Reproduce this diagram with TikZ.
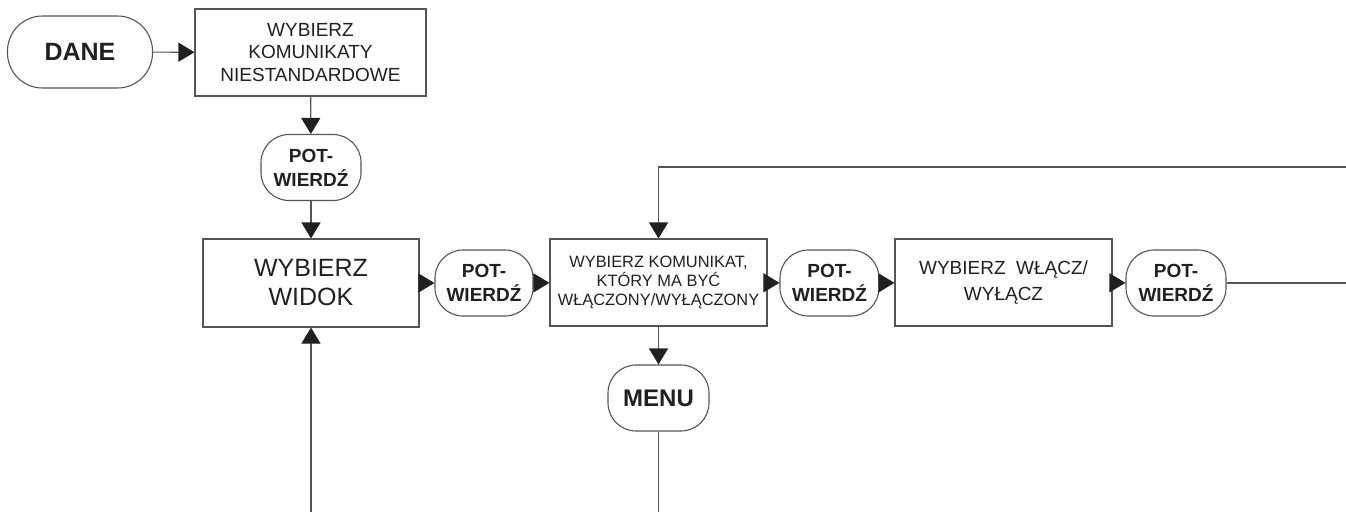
\documentclass[tikz,border=0pt]{standalone}
\usepackage{fontspec}
\setmainfont{Liberation Sans}
\usetikzlibrary{arrows.meta}
\definecolor{ink}{RGB}{35,31,32}
\definecolor{edge}{RGB}{85,85,85}
\begin{document}
\begin{tikzpicture}[x=1pt,y=-1pt,
  every node/.style={inner sep=0pt, align=center, text=ink},
  box/.style={draw=edge, line width=1.1pt},
  term/.style={draw=edge, line width=1.1pt, rounded corners=28pt,
    minimum width=100pt, minimum height=66pt,
    font=\fontsize{19}{24}\selectfont\bfseries},
  flow/.style={draw=edge, line width=1.1pt,
    -{Triangle[length=16pt,width=19pt,color=ink]}},
  plain/.style={draw=edge, line width=1.1pt}]
\useasboundingbox (0,0) rectangle (1346,512);

% start terminal and first selection
\node[box, rounded corners=35pt, minimum width=145pt, minimum height=72pt,
  font=\fontsize{25}{30}\selectfont\bfseries] (dane) at (80,52) {DANE};
\node[box, minimum width=231pt, minimum height=87pt,
  font=\fontsize{19}{22.7}\selectfont] (kom) at (310.5,52.5)
  {WYBIERZ\\KOMUNIKATY\\NIESTANDARDOWE};
\node[term] (p1) at (311,167.5) {POT-\\WIERDŹ};

% main row
\node[box, minimum width=216pt, minimum height=88pt,
  font=\fontsize{25}{29}\selectfont] (widok) at (311,283) {WYBIERZ\\WIDOK};
\node[term, minimum width=98pt] (p2) at (484,283) {POT-\\WIERDŹ};
\node[box, minimum width=217pt, minimum height=87pt,
  font=\fontsize{16.4}{19}\selectfont] (wk) at (658.5,282.5)
  {WYBIERZ KOMUNIKAT,\\KTÓRY MA BYĆ\\WŁĄCZONY/WYŁĄCZONY};
\node[term, minimum width=99pt] (p3) at (829.5,283) {POT-\\WIERDŹ};
\node[box, minimum width=217pt, minimum height=87pt,
  font=\fontsize{19}{26.5}\selectfont] (wl) at (1003.5,282.5)
  {WYBIERZ~~WŁĄCZ/\\WYŁĄCZ};
\node[term] (p4) at (1176,283) {POT-\\WIERDŹ};
\node[term, minimum width=101pt, font=\fontsize{24}{28}\selectfont\bfseries]
  (menu) at (658.5,398) {MENU};

% loose ends leaving the sheet
\coordinate (rowOut) at (1346,283);
\coordinate (loopIn) at (1346,167);
\coordinate (menuOut) at (658.5,512);
\coordinate (widokIn) at (311,512);

% connectors
\draw[flow] (dane) -- (kom);
\draw[flow] (kom) -- (p1);
\draw[flow] (p1) -- (widok);
\draw[flow] (widok) -- (p2);
\draw[flow] (p2) -- (wk);
\draw[flow] (wk) -- (p3);
\draw[flow] (p3) -- (wl);
\draw[flow] (wl) -- (p4);
\draw[flow] (wk) -- (menu);
\draw[plain] (p4) -- (rowOut);
\draw[flow] (loopIn) -| (wk);
\draw[plain] (menu) -- (menuOut);
\draw[flow] (widokIn) -- (widok);
\end{tikzpicture}
\end{document}
